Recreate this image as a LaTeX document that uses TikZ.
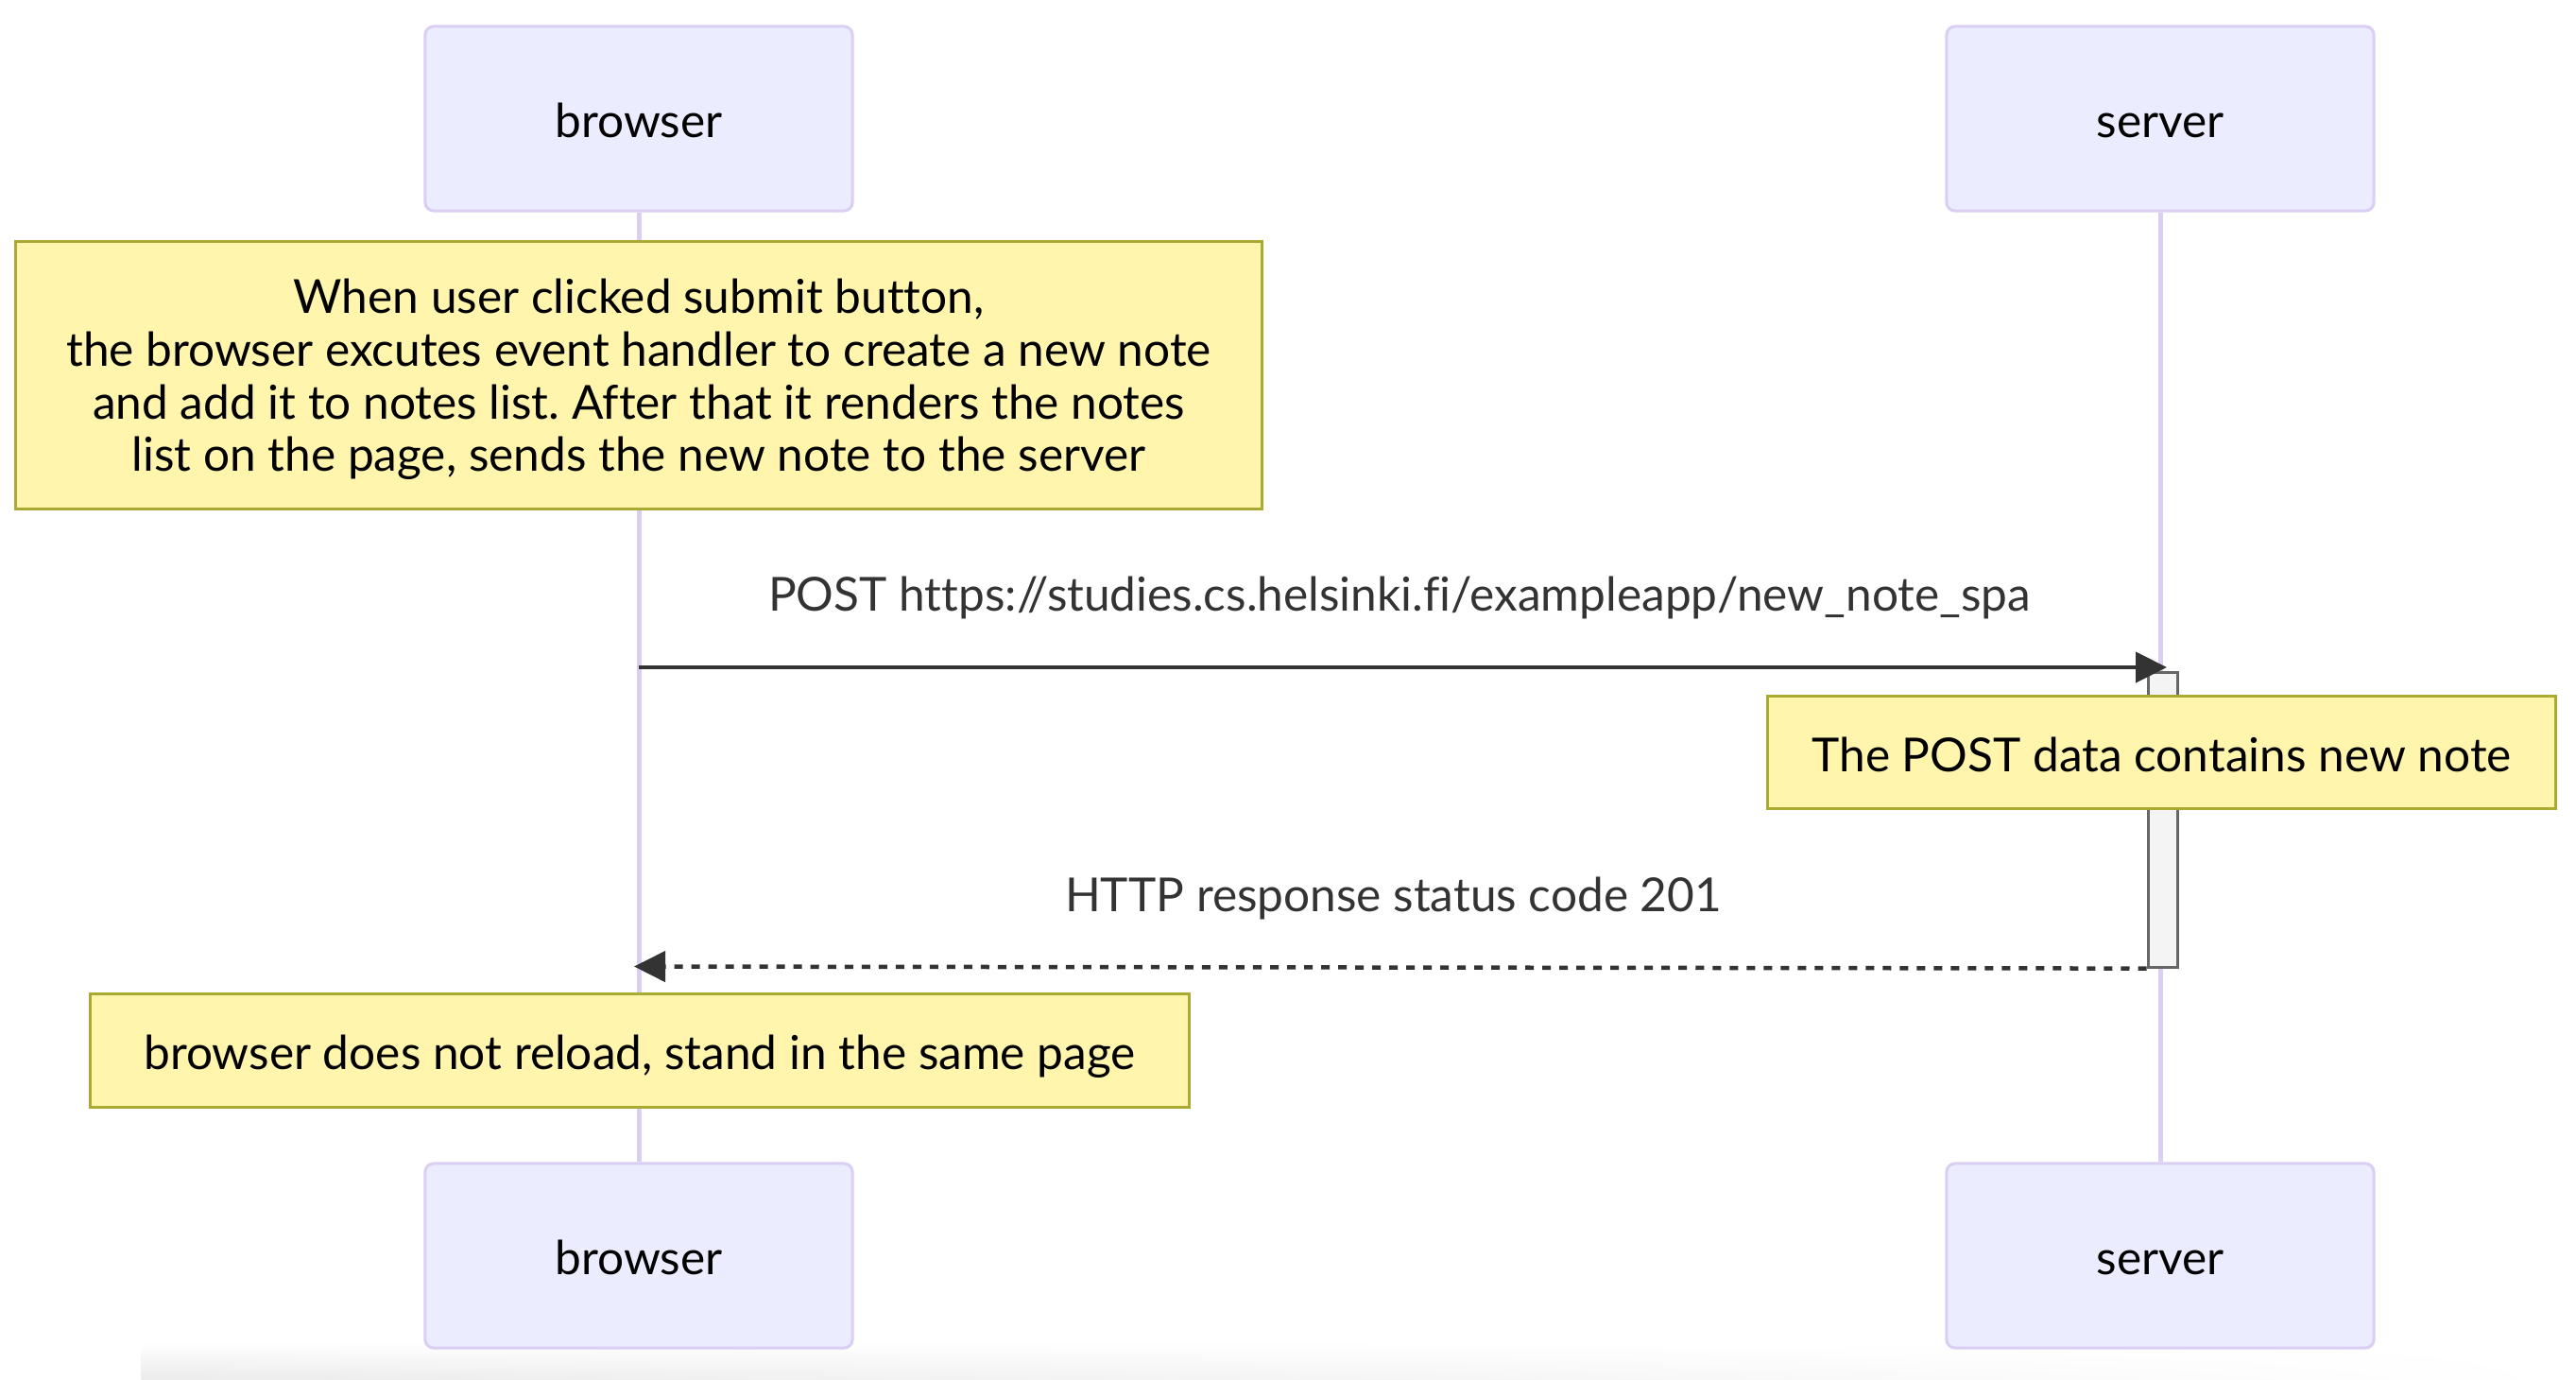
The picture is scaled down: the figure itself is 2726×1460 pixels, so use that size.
\documentclass[tikz,border=0pt]{standalone}
\usepackage{fontspec}
\setmainfont{Lato}[Ligatures=NoCommon]
\usetikzlibrary{arrows.meta,fadings}
\definecolor{actorfill}{HTML}{ECECFF}
\definecolor{actorline}{HTML}{DACEF3}
\definecolor{notefill}{HTML}{FFF5AD}
\definecolor{noteline}{HTML}{AAAA33}
\definecolor{actfill}{HTML}{F4F4F4}
\definecolor{actline}{HTML}{666666}
\definecolor{signal}{HTML}{333333}
\newcommand{\txt}{\fontsize{14.1pt}{15.8pt}\selectfont}
\frenchspacing
\begin{document}
\begin{tikzpicture}[x=0.01cm,y=-0.01cm,
		oneline/.style={text height=1.16em,text depth=0em},
		actor/.style={draw=actorline,fill=actorfill,line width=0.03cm,rounded corners=0.09cm,minimum width=4.52cm,minimum height=1.95cm,font=\txt,oneline},
		lifeline/.style={draw=actorline,line width=0.05cm},
		note/.style={draw=noteline,fill=notefill,line width=0.03cm,inner sep=0pt,align=center,font=\txt},
		activation/.style={draw=actline,fill=actfill,line width=0.03cm,inner sep=0pt,minimum width=0.31cm,minimum height=3.11cm},
		msg/.style={draw=signal,line width=0.045cm,-{Triangle[length=0.33cm,width=0.32cm]}},
		reply/.style={msg,dash pattern=on 0.09cm off 0.09cm},
		msglabel/.style={text=signal,font=\txt,oneline}]
	\useasboundingbox (0,0) rectangle (2726,1460);
	\shade[top color=white,bottom color=black!8,path fading=east] (150,1420) rectangle (2726,1460);
	% participants, top and bottom
	\node[actor] (bt) at (676,125.5) {browser};
	\node[actor] (st) at (2286,125.5) {server};
	\node[actor] (bb) at (676,1328.5) {browser};
	\node[actor] (sb) at (2286,1328.5) {server};
	\draw[lifeline] (bt) -- (bb);
	\draw[lifeline] (st) -- (sb);
	\node[activation] (act) at (2288.5,867.5) {};
	% messages and notes
	\node[note,text depth=0pt,minimum width=13.18cm,minimum height=2.83cm] (n1) at (676,397) {When user clicked submit button,\\the browser excutes event handler to create a new note\\and add it to notes list. After that it renders the notes\\list on the page, sends the new note to the server};
	\coordinate (post) at (676,706);
	\coordinate (postend) at (2293,706);
	\draw[msg] (post) -- (postend);
	\node[msglabel] (postlbl) at (1481,626) {POST https://studies.cs.helsinki.fi/exampleapp/new\_note\_spa};
	\node[note,oneline,minimum width=8.33cm,minimum height=1.18cm] (n2) at (2287.5,796) {The POST data contains new note};
	\node[msglabel] (httplbl) at (1474.5,944) {HTTP response status code 201};
	\coordinate (replyend) at (671,1022.5);
	\draw[reply] (act.south west) -- (replyend);
	\node[note,oneline,minimum width=11.62cm,minimum height=1.19cm] (n3) at (677,1111.5) {browser does not reload, stand in the same page};
\end{tikzpicture}
\end{document}
